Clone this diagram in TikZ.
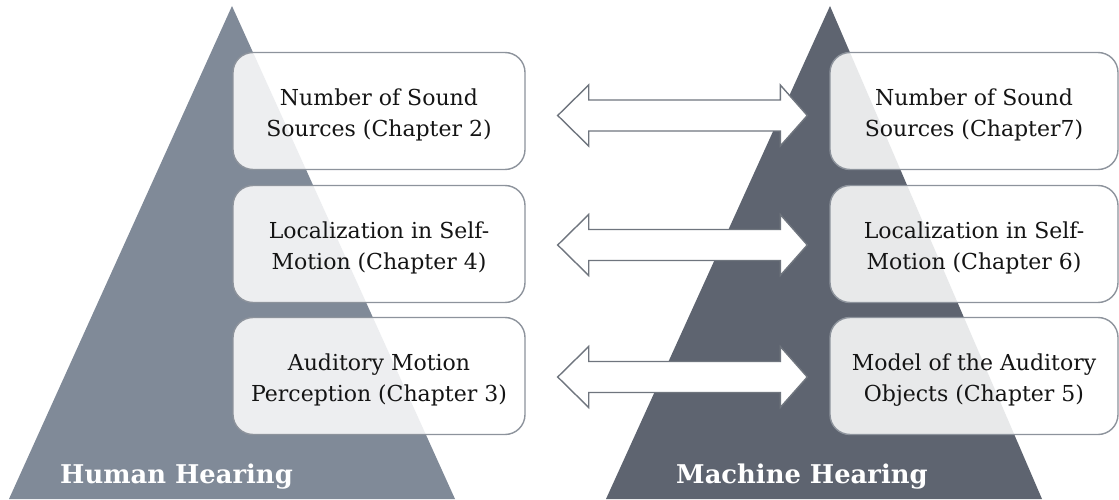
\documentclass[tikz,border=0pt]{standalone}
\usepackage{fontspec}
\setmainfont{DejaVu Serif}
\usetikzlibrary{calc}
\begin{document}
\begin{tikzpicture}[x=1pt,y=-1pt,
  chapbox/.style={draw=boxedge, line width=1.4pt, rounded corners=20pt,
    fill=white, fill opacity=0.86, text opacity=1, text=black!92,
    minimum height=117pt, align=center,
    font=\fontsize{22}{31}\selectfont},
  bigarrow/.style={draw=arrowedge, line width=1.4pt, fill=white, line join=miter},
  title/.style={text=white, anchor=base west, inner sep=0pt,
    font=\fontsize{25.8}{30}\selectfont\bfseries}]
\definecolor{humancol}{HTML}{808A98}
\definecolor{machinecol}{HTML}{5E6470}
\definecolor{boxedge}{HTML}{8D939C}
\definecolor{arrowedge}{HTML}{6F757E}
\useasboundingbox (0,0) rectangle (1119,500);
% raises the first line's top so the two lines sit a little low in the box
\newcommand\lowerlines{\rule{0pt}{24pt}}

% the two pyramids
\fill[humancol] (232,6) -- (455,499) -- (9,499) -- cycle;
\fill[machinecol] (830,6) -- (1042,499) -- (606,499) -- cycle;

% pyramid titles
\node[title] (human) at (60,483) {Human Hearing};
\node[title] (machine) at (676,483) {Machine Hearing};

% chapter boxes, human side
\node[chapbox, minimum width=292pt] (h1) at (379,111) {\lowerlines Number of Sound\\Sources (Chapter 2)};
\node[chapbox, minimum width=292pt] (h2) at (379,244) {\lowerlines Localization in Self-\\Motion (Chapter 4)};
\node[chapbox, minimum width=292pt] (h3) at (379,376) {\lowerlines Auditory Motion\\Perception (Chapter 3)};

% chapter boxes, machine side
\node[chapbox, minimum width=288pt] (m1) at (974,111) {\lowerlines Number of Sound\\Sources (Chapter7)};
\node[chapbox, minimum width=288pt] (m2) at (974,244) {\lowerlines Localization in Self-\\Motion (Chapter 6)};
\node[chapbox, minimum width=288pt] (m3) at (974,376) {\lowerlines Model of the Auditory\\Objects (Chapter 5)};

% hollow double arrows between corresponding boxes
\newcommand\twowayarrow[3]{%
  \path let \p1=(#1.east), \p2=(#2.west) in
    coordinate (L) at (\x1+32pt,-#3pt) coordinate (R) at (\x2-22pt,-#3pt);
  \draw[bigarrow] (L) -- ++(31,-30.5) -- ++(0,15) -- ($(R)+(-27,-15.5)$)
    -- ++(0,-15) -- (R) -- ++(-27,30.5) -- ++(0,-15)
    -- ($(L)+(31,15.5)$) -- ++(0,15) -- cycle;}
\twowayarrow{h1}{m1}{115.5}
\twowayarrow{h2}{m2}{245}
\twowayarrow{h3}{m3}{377}
\end{tikzpicture}
\end{document}
